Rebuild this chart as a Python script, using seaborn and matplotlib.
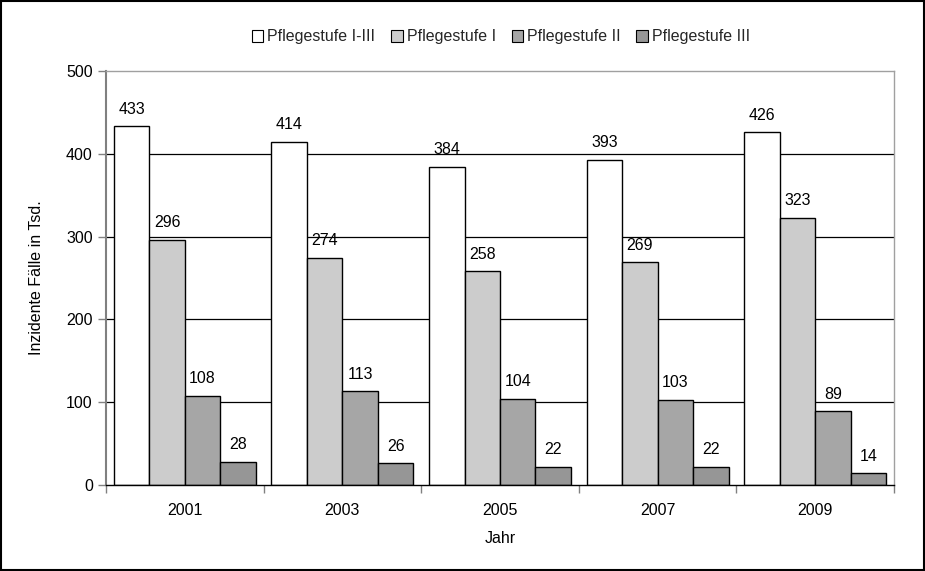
import matplotlib
matplotlib.use("Agg")
import matplotlib.pyplot as plt
import seaborn as sns
import pandas as pd
from matplotlib.patches import Rectangle, Patch

years = ["2001", "2003", "2005", "2007", "2009"]
series = ["Pflegestufe I-III", "Pflegestufe I", "Pflegestufe II", "Pflegestufe III"]
stufe_all = [433, 414, 384, 393, 426]
stufe_1 = [296, 274, 258, 269, 323]
stufe_2 = [108, 113, 104, 103, 89]
stufe_3 = [28, 26, 22, 22, 14]
colors = ["#FFFFFF", "#CCCCCC", "#A6A6A6", "#969696"]

rows = []
for s, vals in zip(series, [stufe_all, stufe_1, stufe_2, stufe_3]):
    for y, v in zip(years, vals):
        rows.append({"Jahr": y, "Serie": s, "Wert": v})
df = pd.DataFrame(rows)

sns.set_theme(style="white")
plt.rcParams['font.family'] = ['Liberation Sans', 'DejaVu Sans']
FS = 11.5

fig = plt.figure(figsize=(9.25, 5.71), dpi=100)
ax = fig.add_axes([106/925, 1 - 485/571, (894-106)/925, (485-71)/571])

sns.barplot(data=df, x="Jahr", y="Wert", hue="Serie", hue_order=series,
            palette=colors, edgecolor="black", linewidth=1.0, width=0.9,
            saturation=1, ax=ax, legend=False, errorbar=None)

for cont in ax.containers:
    ax.bar_label(cont, fmt="%d", padding=7, fontsize=FS, color="black")

ax.set_ylim(0, 500)
ax.set_xlim(-0.5, 4.5)
ax.set_yticks([0, 100, 200, 300, 400, 500])
for yv in [100, 200, 300, 400]:
    ax.axhline(yv, color="black", linewidth=0.9, zorder=0)
ax.set_axisbelow(True)

for side in ["top", "right"]:
    ax.spines[side].set_color("#A0A0A0")
    ax.spines[side].set_linewidth(1.0)
ax.spines["left"].set_color("#808080")
ax.spines["left"].set_linewidth(1.5)
ax.spines["bottom"].set_color("black")
ax.spines["bottom"].set_linewidth(1.0)

ax.set_xticks([0, 1, 2, 3, 4])
ax.set_xticks([-0.5, 0.5, 1.5, 2.5, 3.5, 4.5], minor=True)
ax.tick_params(axis="x", which="major", length=0, pad=13, labelsize=FS, colors="black")
ax.tick_params(axis="x", which="minor", length=6, width=1, direction="out", color="#808080", bottom=True)
ax.tick_params(axis="y", length=6, width=1, direction="out", color="#808080", left=True, labelsize=FS, labelcolor="black")

ax.set_xlabel("Jahr", fontsize=FS, labelpad=9, color="black")
ax.set_ylabel("Inzidente Fälle in Tsd.", fontsize=FS, labelpad=16, color="black")

handles = [Patch(facecolor=c, edgecolor="black", linewidth=0.8) for c in colors]
fig.legend(handles, series, loc="center", bbox_to_anchor=(0.5416, 1 - 37/571), ncol=4,
           frameon=False, fontsize=FS, handlelength=0.7, handleheight=0.7,
           handletextpad=0.25, columnspacing=1.0)

fig.add_artist(Rectangle((0.001, 0.001), 0.998, 0.997, transform=fig.transFigure,
                         fill=False, edgecolor="black", linewidth=1.5))

fig.savefig("out.png", dpi=100)
